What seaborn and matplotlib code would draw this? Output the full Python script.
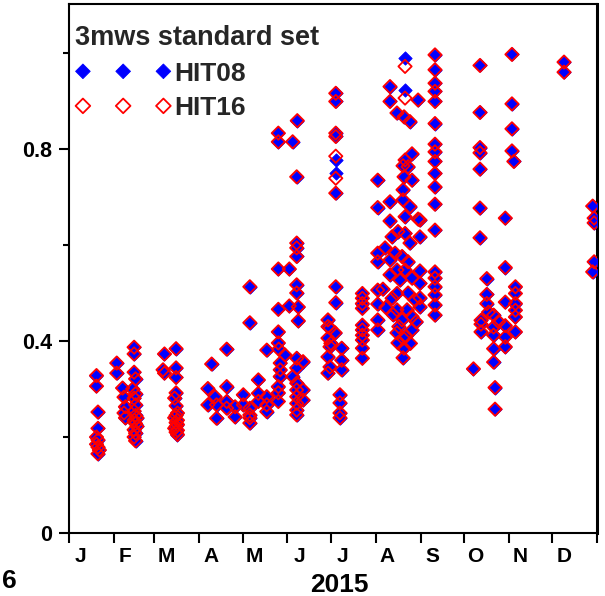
import numpy as np
import pandas as pd
import matplotlib
matplotlib.use("Agg")
import matplotlib.pyplot as plt
from matplotlib.ticker import FixedLocator, FixedFormatter, NullFormatter
import seaborn as sns

# day of year (0 = 1 Jan 2015) for each sample
doy = [
    19, 19, 20, 20, 19, 20, 19, 20, 21, 20,
    33, 33,
    37, 38, 39, 38, 39,
    45, 45, 45, 46, 44, 46, 45, 46, 45, 46, 47, 45, 46, 47, 45, 46, 45, 46,
    66, 66, 65,
    74, 74, 74, 74, 73, 74, 75, 74, 73, 75, 74, 75, 74, 73, 75, 74, 75,
    96, 96, 98.6, 101, 102, 102, 109, 109, 109, 109, 114.8, 114.8, 120.5, 120.5,
    125, 125, 125, 125, 125, 125, 130.9, 130.9, 130.9, 136.7, 136.7, 136.7, 136.7,
    144.7, 144.7, 144.7, 144.7, 144.7, 144.7, 145, 146, 146, 146, 144.7, 144.7, 144.7,
    149.3, 152.3, 152.3, 154.6, 154.6, 157.8, 157.4, 157.4, 157.4, 157.4, 157.4, 157.4,
    158.5, 158.5, 157.4, 157.4, 157.4, 157.4, 157.4, 157.4, 157.4, 157.4, 161.8, 161.8, 161.8,
    184.4, 184.4, 184.4, 184.4, 184.4, 184.4, 184.4,
    179, 180.4, 179, 184, 180.4, 188.5, 179, 188.5, 180.4, 188.5, 179, 184.4, 184.4,
    187.3, 187.3, 187.3, 187.3, 179, 181,
    202.8, 202.8, 202.8, 202.8, 202.8, 202.8, 202.8, 202.8, 202.8, 202.8,
    213.4, 213.4, 213.4, 213.4, 213.4, 213.4, 213.4, 213.4, 217, 218.5,
    221.9, 221.9, 232.3, 232.3, 241.3, 226.7, 231.6, 235.7, 237.1, 232.3, 230.9, 231.6,
    237.1, 230.9, 221.9, 230.9, 235.7, 232.3, 221.9, 241.3, 227.4, 232.3, 223.3, 235.7,
    225.4, 221.9, 230.2, 234.4, 226.7, 232.3, 242.6, 221.9, 228.8, 237.1, 226.7, 234.4,
    242.6, 223.3, 239.2, 242.6, 226.7, 233.7, 230.2, 237.1, 237.1, 226.7, 230.9, 227.4,
    231.6, 230.9, 242.6, 242.6, 242.6, 234.4, 228, 233, 236, 240, 224, 219,
    253, 253, 253, 253, 253, 253, 253, 253, 253, 253, 253, 253, 253, 253, 253, 253,
    253, 253, 253,
    284.1, 284.1, 284.1, 284.1, 284.1, 284.1, 284.1, 279.6, 306.2, 306.2, 306.2, 306.2,
    307.5, 301.6, 301.6, 342.2, 342.2,
    288.8, 288.8, 288.8, 293.5, 284.8, 284.8, 293.5, 293.5, 301.6, 301.6, 301.6, 301.6,
    293.5, 293.5, 294.5, 294.5, 308.6, 308.6, 308.6, 308.6, 308.6, 308.6, 284.8, 297, 290,
    362, 363, 363, 363, 362,
]

hit08 = [
    0.328, 0.306, 0.252, 0.218, 0.200, 0.194, 0.185, 0.179, 0.173, 0.165,
    0.354, 0.333,
    0.302, 0.283, 0.263, 0.250, 0.240,
    0.387, 0.373, 0.335, 0.321, 0.300, 0.290, 0.281, 0.267, 0.254, 0.245, 0.240, 0.235,
    0.228, 0.222, 0.215, 0.208, 0.200, 0.192,
    0.373, 0.333, 0.340,
    0.384, 0.344, 0.324, 0.292, 0.281, 0.265, 0.250, 0.245, 0.240, 0.235, 0.230, 0.226,
    0.222, 0.218, 0.214, 0.210, 0.205,
    0.301, 0.267, 0.352, 0.284, 0.267, 0.239, 0.383, 0.305, 0.274, 0.260, 0.263, 0.242,
    0.288, 0.267,
    0.513, 0.438, 0.260, 0.246, 0.229, 0.240, 0.319, 0.291, 0.274, 0.381, 0.284, 0.267,
    0.253,
    0.833, 0.815, 0.550, 0.466, 0.419, 0.396, 0.383, 0.354, 0.340, 0.326, 0.305, 0.292,
    0.274,
    0.371, 0.550, 0.473, 0.815, 0.326, 0.859, 0.742, 0.604, 0.594, 0.576, 0.517, 0.500,
    0.471, 0.442, 0.364, 0.344, 0.312, 0.298, 0.284, 0.270, 0.256, 0.246, 0.357, 0.298,
    0.277,
    0.916, 0.899, 0.833, 0.826, 0.778, 0.749, 0.708,
    0.444, 0.427, 0.406, 0.417, 0.388, 0.385, 0.367, 0.360, 0.346, 0.340, 0.333, 0.513,
    0.480,
    0.288, 0.271, 0.250, 0.240, 0.430, 0.395,
    0.499, 0.489, 0.478, 0.468, 0.433, 0.423, 0.412, 0.402, 0.385, 0.364,
    0.735, 0.678, 0.583, 0.565, 0.506, 0.477, 0.444, 0.423, 0.508, 0.594,
    0.930, 0.899, 0.990, 0.923, 0.902, 0.875, 0.867, 0.857, 0.790, 0.777, 0.765, 0.742,
    0.735, 0.715, 0.690, 0.694, 0.680, 0.659, 0.650, 0.654, 0.628, 0.624, 0.617, 0.604,
    0.583, 0.569, 0.576, 0.565, 0.548, 0.548, 0.546, 0.538, 0.527, 0.531, 0.499, 0.500,
    0.520, 0.489, 0.485, 0.490, 0.465, 0.465, 0.444, 0.451, 0.423, 0.417, 0.406, 0.396,
    0.385, 0.365, 0.652, 0.617, 0.471, 0.763, 0.430, 0.410, 0.395, 0.440, 0.455, 0.470,
    0.996, 0.965, 0.937, 0.920, 0.899, 0.853, 0.810, 0.794, 0.774, 0.749, 0.721, 0.685,
    0.631, 0.544, 0.531, 0.513, 0.496, 0.475, 0.454,
    0.974, 0.876, 0.803, 0.792, 0.758, 0.677, 0.615, 0.342, 0.997, 0.894, 0.842, 0.796,
    0.774, 0.656, 0.553, 0.981, 0.960,
    0.530, 0.497, 0.478, 0.454, 0.443, 0.419, 0.429, 0.412, 0.481, 0.432, 0.408, 0.388,
    0.384, 0.356, 0.303, 0.258, 0.513, 0.499, 0.478, 0.464, 0.450, 0.419, 0.435, 0.440,
    0.460,
    0.681, 0.656, 0.646, 0.565, 0.544,
]

hit16 = [
    0.328, 0.306, 0.252, 0.218, 0.200, 0.194, 0.185, 0.179, 0.173, 0.165,
    0.354, 0.333,
    0.302, 0.283, 0.263, 0.250, 0.240,
    0.387, 0.373, 0.335, 0.321, 0.300, 0.290, 0.281, 0.267, 0.254, 0.245, 0.240, 0.235,
    0.228, 0.222, 0.215, 0.208, 0.200, 0.192,
    0.373, 0.333, 0.340,
    0.384, 0.344, 0.324, 0.292, 0.281, 0.265, 0.250, 0.245, 0.240, 0.235, 0.230, 0.226,
    0.222, 0.218, 0.214, 0.210, 0.205,
    0.301, 0.267, 0.352, 0.284, 0.267, 0.239, 0.383, 0.305, 0.274, 0.260, 0.263, 0.242,
    0.288, 0.267,
    0.513, 0.438, 0.260, 0.246, 0.229, 0.240, 0.319, 0.291, 0.274, 0.381, 0.284, 0.267,
    0.253,
    0.833, 0.815, 0.550, 0.466, 0.419, 0.396, 0.383, 0.354, 0.340, 0.326, 0.305, 0.292,
    0.274,
    0.371, 0.550, 0.473, 0.815, 0.326, 0.859, 0.742, 0.604, 0.594, 0.576, 0.517, 0.500,
    0.471, 0.442, 0.364, 0.344, 0.312, 0.298, 0.284, 0.270, 0.256, 0.246, 0.357, 0.298,
    0.277,
    0.916, 0.899, 0.833, 0.826, 0.785, 0.739, 0.708,
    0.444, 0.427, 0.406, 0.417, 0.388, 0.385, 0.367, 0.360, 0.346, 0.340, 0.333, 0.513,
    0.480,
    0.288, 0.271, 0.250, 0.240, 0.430, 0.395,
    0.499, 0.489, 0.478, 0.468, 0.433, 0.423, 0.412, 0.402, 0.385, 0.364,
    0.735, 0.678, 0.583, 0.565, 0.506, 0.477, 0.444, 0.423, 0.508, 0.594,
    0.930, 0.899, 0.972, 0.906, 0.902, 0.875, 0.867, 0.857, 0.790, 0.777, 0.765, 0.742,
    0.735, 0.715, 0.690, 0.694, 0.680, 0.659, 0.650, 0.654, 0.628, 0.624, 0.617, 0.604,
    0.583, 0.569, 0.576, 0.565, 0.548, 0.548, 0.546, 0.538, 0.527, 0.531, 0.499, 0.500,
    0.520, 0.489, 0.485, 0.490, 0.465, 0.465, 0.444, 0.451, 0.423, 0.417, 0.406, 0.396,
    0.385, 0.365, 0.652, 0.617, 0.471, 0.763, 0.430, 0.410, 0.395, 0.440, 0.455, 0.470,
    0.996, 0.965, 0.937, 0.920, 0.899, 0.853, 0.810, 0.794, 0.774, 0.749, 0.721, 0.685,
    0.631, 0.544, 0.531, 0.513, 0.496, 0.475, 0.454,
    0.974, 0.876, 0.803, 0.792, 0.758, 0.677, 0.615, 0.342, 0.997, 0.894, 0.842, 0.796,
    0.774, 0.656, 0.553, 0.981, 0.960,
    0.530, 0.497, 0.478, 0.454, 0.443, 0.419, 0.429, 0.412, 0.481, 0.432, 0.408, 0.388,
    0.384, 0.356, 0.303, 0.258, 0.513, 0.499, 0.478, 0.464, 0.450, 0.419, 0.435, 0.440,
    0.460,
    0.681, 0.656, 0.646, 0.565, 0.544,
]

month_starts = [0, 31, 59, 90, 120, 151, 181, 212, 243, 273, 304, 334, 365]
month_labels = ["J", "F", "M", "A", "M", "J", "J", "A", "S", "O", "N", "D"]
y_major = [0, 0.4, 0.8]
y_major_labels = ["0", "0.4", "0.8"]
y_minor = [0.2, 0.6, 1.0]

sns.set_theme(style="ticks")
plt.rcParams["font.family"] = ["Liberation Sans", "DejaVu Sans"]
plt.rcParams["font.weight"] = "bold"

df = pd.DataFrame({"doy": doy, "HIT08": hit08, "HIT16": hit16})

fig = plt.figure(figsize=(6.05, 5.96), dpi=100)
ax = fig.add_axes([69 / 605, 63 / 596, 528 / 605, 529 / 596])

sns.scatterplot(data=df, x="doy", y="HIT08", marker="D", s=46,
                color="#0000ff", edgecolor="#0000ff", linewidth=0.6,
                label="HIT08", ax=ax, zorder=3)
sns.scatterplot(data=df, x="doy", y="HIT16", marker="D", s=46,
                facecolors="none", edgecolor="#ff0000", linewidth=1.3,
                label="HIT16", ax=ax, zorder=4)

ax.set_xlim(0, 365)
ax.set_ylim(0, 1.102)

ax.xaxis.set_major_locator(FixedLocator(month_starts))
ax.xaxis.set_major_formatter(NullFormatter())
ax.xaxis.set_minor_locator(FixedLocator([m + 8 for m in month_starts[:-1]]))
ax.xaxis.set_minor_formatter(FixedFormatter(month_labels))
ax.tick_params(axis="x", which="major", direction="out", length=7, width=1.5,
               color="black")
ax.tick_params(axis="x", which="minor", length=0, pad=10, labelsize=15,
               labelcolor="black")

ax.yaxis.set_major_locator(FixedLocator(y_major))
ax.yaxis.set_major_formatter(FixedFormatter(y_major_labels))
ax.yaxis.set_minor_locator(FixedLocator(y_minor))
ax.tick_params(axis="y", which="major", direction="out", length=7, width=1.5,
               pad=5, labelsize=15.5, labelcolor="black", color="black")
ax.tick_params(axis="y", which="minor", direction="out", length=4.5, width=1.5,
               color="black")

for side in ["left", "right", "top", "bottom"]:
    ax.spines[side].set_visible(True)
    ax.spines[side].set_color("black")
    ax.spines[side].set_linewidth(1.5)
ax.spines["right"].set_linewidth(2.2)

ax.set_xlabel("2015", fontsize=19, fontweight="bold", color="black", labelpad=4)
ax.xaxis.set_label_coords(0.513, -0.075)
ax.set_ylabel("")

leg = ax.legend(title="3mws standard set", loc="upper left",
                bbox_to_anchor=(6 / 528, 1 - 21 / 529), frameon=False,
                scatterpoints=3, scatteryoffsets=[0.5], handlelength=3.65,
                handletextpad=0.1, labelspacing=0.4, borderpad=0, borderaxespad=0,
                prop={"size": 19, "weight": "bold"}, alignment="left",
                markerscale=1.1)
leg.get_title().set_fontsize(19.5)
leg.get_title().set_fontweight("bold")

fig.text(2 / 605, 0.025, "6", fontsize=19, fontweight="bold", va="center",
         ha="left", color="black")

fig.savefig("out.png", dpi=100)
